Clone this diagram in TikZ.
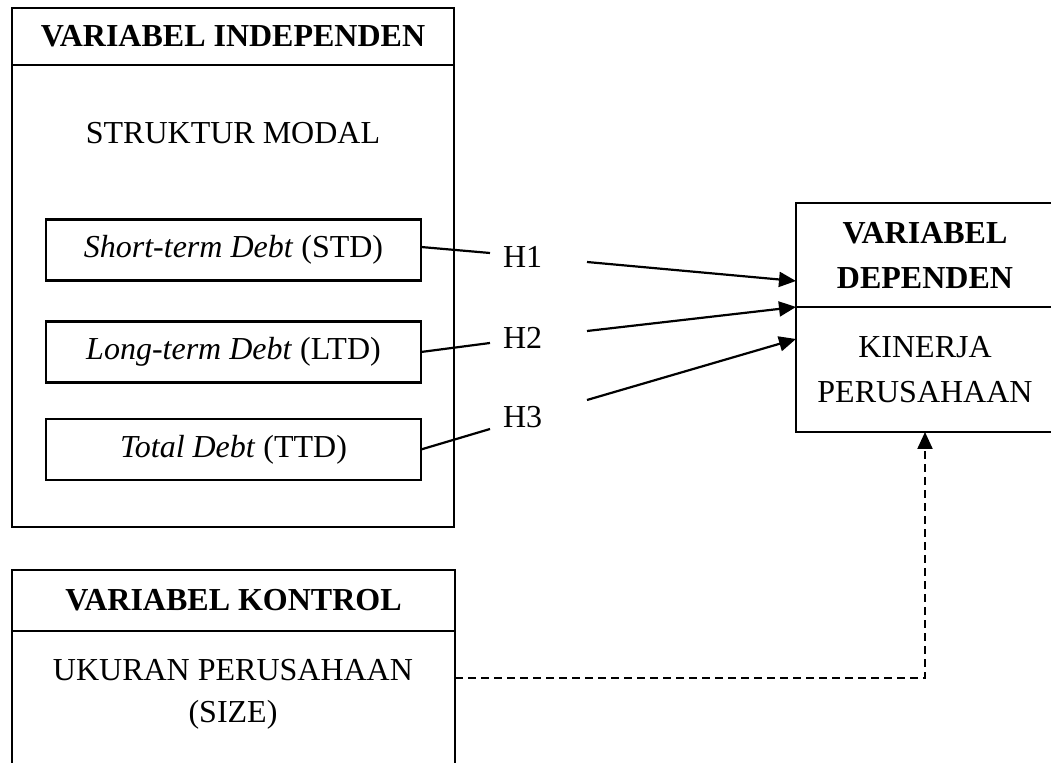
\documentclass[tikz,border=0pt]{standalone}
\usepackage{fontspec}
\setmainfont{Liberation Serif}
\usetikzlibrary{arrows.meta,calc}
\begin{document}
\begin{tikzpicture}[x=0.5pt,y=-0.5pt,
  box/.style={draw,line width=1.1pt,inner sep=0pt,outer sep=0pt,anchor=north west},
  txt/.style={font=\fontsize{16}{22.5}\selectfont,align=center,inner sep=0pt},
  hdrtxt/.style={font=\fontsize{16}{22.5}\selectfont\bfseries,align=center},
  ibox/.style={draw,line width=1.1pt,minimum width=187.5pt,minimum height=30.5pt,inner sep=0pt,outer sep=0pt,font=\fontsize{16}{22.5}\selectfont},
  hnode/.style={font=\fontsize{16}{22.5}\selectfont,anchor=west,inner xsep=6.5pt,inner ysep=0pt,outer sep=0pt,text width=35.5pt,align=left},
  link/.style={line width=1.1pt},
  arr/.style={line width=1.1pt,-{Triangle[length=8.5pt,width=7.5pt]}},
  ctrlline/.style={line width=1.1pt,dash pattern=on 4pt off 2.5pt,-{Triangle[length=8.5pt,width=7.5pt]}}
]
\clip (0,0) rectangle (1051,763);
% independent
\node[box,hdrtxt,minimum width=221pt,minimum height=28.5pt] (ihdr) at (12,8) {VARIABEL INDEPENDEN};
\node[box,minimum width=221pt,minimum height=231pt] (ibody) at (12,65) {};
\node[txt] (sm) at (233,133) {STRUKTUR MODAL};
\node[ibox] (std) at (233.5,250) {\textit{Short-term Debt} (STD)};
\node[ibox] (ltd) at (233.5,352) {\textit{Long-term Debt} (LTD)};
\node[ibox] (ttd) at (233.5,449.5) {\textit{Total Debt} (TTD)};
% hypotheses
\node[hnode] (h1) at (490,257) {H1};
\node[hnode] (h2) at (490,338) {H2};
\node[hnode] (h3) at (490,417) {H3};
% dependent
\node[box,hdrtxt,minimum width=129pt,minimum height=52pt] (dhdr) at (796,203) {VARIABEL\\DEPENDEN};
\node[box,txt,minimum width=129pt,minimum height=62.5pt] (dbody) at (796,307) {KINERJA\\PERUSAHAAN};
% control
\node[box,hdrtxt,minimum width=221.5pt,minimum height=30.5pt] (chdr) at (12,570) {VARIABEL KONTROL};
\node[box,minimum width=221.5pt,minimum height=75pt] (cbody) at (12,631) {};
\node[txt,font=\fontsize{16}{21}\selectfont] (size) at (233,694) {UKURAN PERUSAHAAN\\(SIZE)};
% connectors
\draw[link] ([yshift=1.5pt]std.east) -- ([yshift=2pt]h1.west);
\draw[link] (ltd.east) -- ([yshift=-2.5pt]h2.west);
\draw[link] (ttd.east) -- ([yshift=-6pt]h3.west);
\draw[arr] ([yshift=-2.5pt]h1.east) -- ([yshift=-13pt]dhdr.west);
\draw[arr] ([yshift=3.5pt]h2.east) -- (dhdr.south west);
\draw[arr] ([yshift=8.5pt]h3.east) -- ([yshift=15.25pt]dbody.west);
\draw[ctrlline] (cbody.east |- 0,678) -| (dbody.south);
\end{tikzpicture}
\end{document}
